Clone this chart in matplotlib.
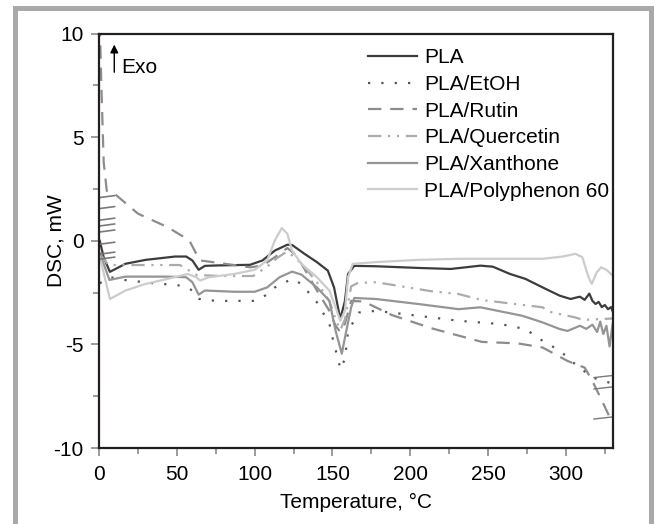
import numpy as np
import matplotlib
matplotlib.use('Agg')
import matplotlib.pyplot as plt
from matplotlib.patches import Rectangle
from matplotlib.ticker import MultipleLocator

plt.rcParams['font.family'] = ['Liberation Sans', 'DejaVu Sans']
plt.rcParams['axes.unicode_minus'] = False
FS = 15

# --- data (T in degC, DSC in mW) --- #
pla_T = [0.5, 3, 7, 17, 30, 49, 56, 60, 64, 68, 76, 97, 105, 113, 121, 124, 132, 140,
         147, 151, 155, 158, 160, 164, 178, 205, 226, 245, 253, 264, 274, 285, 296,
         303, 306, 309, 312, 315, 317, 319, 321, 323, 325, 327, 329, 330]
pla_y = [0.0, -0.8, -1.5, -1.11, -0.92, -0.76, -0.76, -0.95, -1.4, -1.21, -1.19, -1.16,
         -0.95, -0.47, -0.19, -0.2, -0.63, -1.03, -1.44, -2.25, -3.78, -2.9, -1.6, -1.21,
         -1.23, -1.31, -1.36, -1.2, -1.25, -1.6, -1.84, -2.25, -2.65, -2.81, -2.75, -2.7,
         -2.85, -2.55, -2.9, -3.05, -2.95, -3.2, -3.1, -3.3, -3.2, -3.4]

etoh_T = [0.5, 7, 16, 35, 50, 55, 60, 62, 64, 69, 76, 99, 105, 113, 124, 130, 140, 148,
          151, 154, 155, 158, 160, 167, 178, 205, 231, 258, 274, 285, 296, 306, 317, 324, 330]
etoh_y = [-2.05, -1.75, -1.89, -2.05, -2.14, -2.2, -2.4, -2.7, -2.8, -2.86, -2.9, -2.9,
          -2.75, -2.25, -1.84, -2.08, -2.97, -4.0, -5.0, -5.8, -6.2, -5.7, -4.35, -3.46,
          -3.38, -3.62, -3.86, -4.02, -4.26, -4.83, -5.3, -5.96, -6.6, -6.75, -6.9]

rutin_T = [0.5, 1.5, 3, 5, 9.5, 25, 44, 58, 62.5, 65, 81, 97, 105, 113, 121, 125, 130, 140,
           148, 152, 155, 158, 162, 170, 188, 214, 246, 269, 285, 301, 312, 317, 323, 328, 330]
rutin_y = [10.5, 7.5, 3.8, 2.4, 2.3, 1.31, 0.66, 0.02, -0.63, -0.95, -1.11, -1.28, -1.2,
           -0.79, -0.35, -0.6, -1.1, -2.4, -3.38, -4.1, -4.4, -4.0, -2.9, -2.93, -3.58,
           -4.23, -4.88, -4.95, -5.15, -5.8, -6.12, -6.77, -7.7, -8.5, -8.8]

querc_T = [0.3, 6, 52, 62.7, 78, 99, 108, 115, 120.5, 125, 130, 140, 148, 152, 155, 158,
           162, 166, 178, 214, 231, 246, 285, 289, 306, 311, 330]
querc_y = [-0.6, -1.17, -1.17, -1.65, -1.7, -1.7, -1.25, -0.8, -0.53, -0.75, -1.1, -2.0,
           -2.9, -3.8, -4.3, -3.8, -2.2, -2.04, -2.0, -2.44, -2.57, -2.86, -3.21, -3.42,
           -3.7, -3.82, -3.75]

xan_T = [0.5, 6.7, 17, 44, 56, 60, 64, 68, 87, 100, 108, 116, 124, 130, 140, 148, 152,
         156, 158, 162, 164, 178, 205, 231, 245, 272, 285, 296, 301, 309, 313, 317, 320,
         322, 324, 326, 328, 330]
xan_y = [-0.6, -1.89, -1.73, -1.73, -1.76, -2.0, -2.6, -2.4, -2.46, -2.46, -2.25, -1.76,
         -1.49, -1.63, -2.25, -2.9, -4.35, -5.45, -4.67, -3.21, -2.76, -2.81, -3.05, -3.3,
         -3.21, -3.62, -3.94, -4.26, -4.35, -4.1, -4.25, -4.05, -4.4, -3.9, -4.5, -4.1, -5.1, -4.0]

poly_T = [0.5, 7, 17, 30, 44, 57, 62.5, 65, 70.5, 87, 100, 108, 113, 117.4, 121, 124, 130,
          140, 148, 152, 155, 158, 160, 163, 178, 205, 231, 258, 285, 298, 306, 310.5,
          314.5, 316.6, 319.8, 322.6, 326, 330]
poly_y = [-0.77, -2.81, -2.4, -2.08, -1.84, -1.6, -1.76, -1.92, -1.76, -1.6, -1.4, -0.95,
          0.02, 0.61, 0.34, -0.47, -1.11, -1.76, -2.4, -3.21, -3.86, -3.38, -1.76, -1.11,
          -1.03, -0.92, -0.87, -0.87, -0.87, -0.76, -0.63, -0.79, -1.76, -2.08, -1.52,
          -1.28, -1.4, -1.68]

# short start-up / end traces of the instrument
start_y = [2.13, 1.6, 1.04, 0.76, 0.47, -0.12, -0.6, -0.84]
end_y = [-6.55, -7.1, -8.55]

series = [
    ('PLA', pla_T, pla_y, '#3c3c3c', '-'),
    ('PLA/EtOH', etoh_T, etoh_y, '#555555', (0, (1, 5))),
    ('PLA/Rutin', rutin_T, rutin_y, '#8c8c8c', (0, (6, 4))),
    ('PLA/Quercetin', querc_T, querc_y, '#ababab', (0, (6, 3, 1, 3, 1, 3))),
    ('PLA/Xanthone', xan_T, xan_y, '#959595', '-'),
    ('PLA/Polyphenon 60', poly_T, poly_y, '#cccccc', '-'),
]

fig = plt.figure(figsize=(6.54, 5.24), dpi=100)
ax = fig.add_axes([0.1514, 0.145, 0.7854, 0.791])

for lab, T, y, c, ls in series:
    ax.plot(T, y, color=c, ls=ls, lw=1.6, label=lab)

for y0 in start_y:
    ax.plot([0, 10], [y0 - 0.05, y0 + 0.05], color='#7a7a7a', lw=1.2)
for y0 in end_y:
    ax.plot([318, 330], [y0 - 0.05, y0 + 0.05], color='#7a7a7a', lw=1.0)

#Limits
ax.set_xlim(0, 330)
ax.set_ylim(-10, 10)

#Ticks
ax.xaxis.set_major_locator(MultipleLocator(50))
ax.xaxis.set_minor_locator(MultipleLocator(25))
ax.yaxis.set_major_locator(MultipleLocator(5))
ax.yaxis.set_minor_locator(MultipleLocator(2.5))
ax.tick_params(which='both', direction='out', color='#8a8a8a', width=1.2,
               labelsize=FS, top=False, right=False)
ax.tick_params(which='major', length=6)
ax.tick_params(axis='x', which='major', pad=6)
ax.tick_params(axis='y', which='major', pad=5)
ax.tick_params(which='minor', length=4)
for s in ax.spines.values():
    s.set_color('#231f20')
    s.set_linewidth(1.6)

#Labels
ax.set_xlabel('Temperature, °C', fontsize=FS, labelpad=7)
ax.set_ylabel('DSC, mW', fontsize=FS, labelpad=-9)

# Exo arrow
ax.annotate('', xy=(9.8, 9.6), xytext=(9.8, 8.0),
            arrowprops=dict(arrowstyle='-|>', color='black', lw=1.0, mutation_scale=12))
ax.text(14.5, 8.35, 'Exo', fontsize=FS, va='center', ha='left')

#Legend
ax.legend(loc='upper left', bbox_to_anchor=(0.508, 0.985), frameon=False, fontsize=FS,
          handlelength=2.35, handletextpad=0.32, labelspacing=0.37, borderaxespad=0)

# grey frame round the figure
fig.add_artist(Rectangle((15 / 654, -0.05), 636 / 654, (524 - 7.5) / 524 + 0.05,
                         transform=fig.transFigure, fill=False,
                         edgecolor='#a9a9ac', lw=3.6))

fig.savefig('out.png', dpi=100)
